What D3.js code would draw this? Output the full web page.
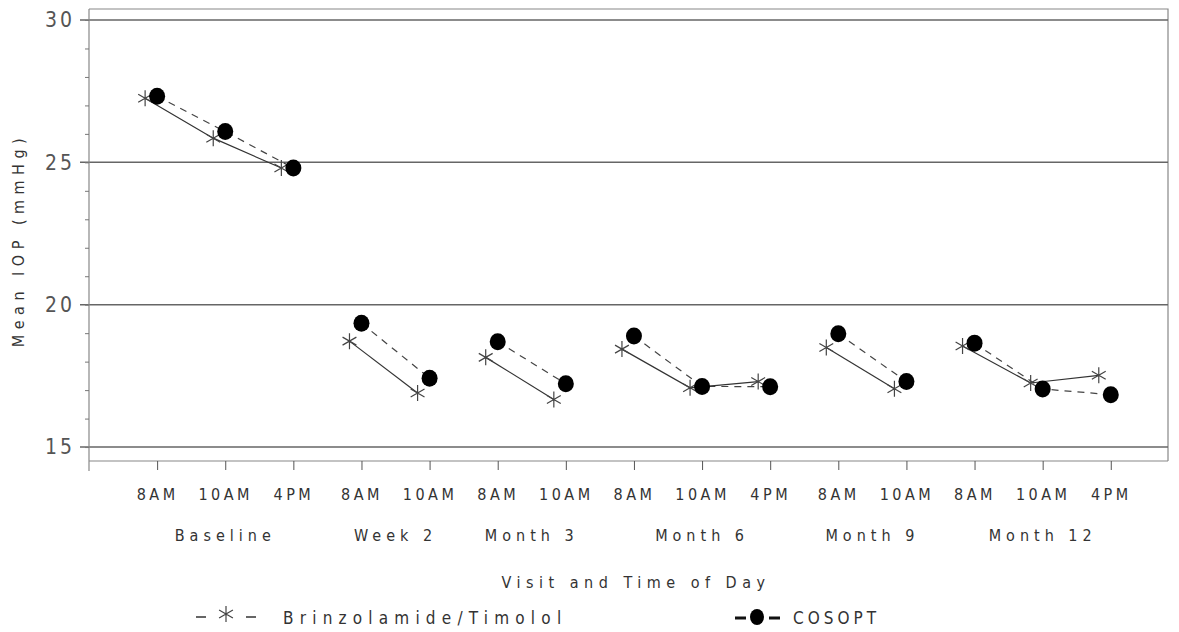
<!DOCTYPE html>
<html lang="en">
<head>
<meta charset="utf-8" />
<title>Mean IOP by visit</title>
<script src="https://d3js.org/d3.v7.min.js"></script>
<style>
  body { margin: 0; background: #fff; }
  text { font-family: "Liberation Sans Narrow", "DejaVu Sans Condensed", sans-serif; fill: #333; }
  .grid { stroke: #666; stroke-width: 1.5; }
  .frame { stroke: #888; stroke-width: 1.2; fill: none; }
  .brinz { fill: none; stroke: #333; stroke-width: 1.2; }
  .cosopt { fill: none; stroke: #444; stroke-width: 1.2; stroke-dasharray: 7,6; }
  .star { stroke: #444; stroke-width: 1.2; }
</style>
</head>
<body>
<script>
// tick labels, visits and which visit each time point belongs to
var times = ["8AM","10AM","4PM","8AM","10AM","8AM","10AM","8AM","10AM","4PM","8AM","10AM","8AM","10AM","4PM"];
var visits = ["Baseline","Week 2","Month 3","Month 6","Month 9","Month 12"];
var visitOf = [0,0,0,1,1,2,2,3,3,3,4,4,5,5,5];

// mean IOP values (mmHg)
var brinz  = [27.25, 25.85, 24.8, 18.72, 16.9, 18.15, 16.67, 18.44, 17.08, 17.3, 18.5, 17.05, 18.55, 17.25, 17.52];
var cosopt = [27.32, 26.08, 24.8, 19.35, 17.42, 18.7, 17.22, 18.9, 17.13, 17.12, 18.98, 17.3, 18.65, 17.04, 16.84];

var yTicks = [15, 20, 25, 30];

var W = 1179, H = 632;
var mLeft = 89, mRight = 1168, mTop = 9, mBottom = 461;

var x = d3.scaleLinear().domain([0, 15.84]).range([mLeft, mRight]);
var y = d3.scaleLinear().domain([30 - (461.5 - 20) / 28.47, 30]).range([461.5, 20]);

var starShift = -12;

var svg = d3.select("body").append("svg")
    .attr("width", W)
    .attr("height", H);

// frame (top and right)
svg.append("path")
    .attr("class", "frame")
    .attr("d", "M" + mLeft + "," + mTop + "H" + mRight + "V" + mBottom);

// grid lines at major values
svg.selectAll(".grid").data(yTicks).enter().append("line")
    .attr("class", "grid")
    .attr("x1", mLeft - 9).attr("x2", mRight)
    .attr("y1", function(d) { return y(d); })
    .attr("y2", function(d) { return y(d); })
    .attr("stroke", function(d) { return d === 20 ? "#999" : "#666"; });

// y axis
var yAxis = d3.axisLeft(y)
    .tickValues(d3.range(15, 31, 1))
    .tickSize(4)
    .tickFormat(function(d) { return d % 5 === 0 ? d : ""; });
var gy = svg.append("g")
    .attr("transform", "translate(" + mLeft + ",0)")
    .call(yAxis);
gy.select(".domain").attr("d", "M0," + mTop + "V" + (mBottom + 10)).attr("stroke", "#888").attr("stroke-width", 1.2);
gy.selectAll(".tick line").attr("stroke", "#777");
gy.selectAll(".tick text")
    .attr("x", -14)
    .style("font-size", "21px")
    .style("letter-spacing", "3px")
    .style("fill", "#555");

// x axis
var xAxis = d3.axisBottom(x)
    .tickValues(d3.range(1, 16))
    .tickSize(9)
    .tickFormat(function(d) { return times[d - 1]; });
var gx = svg.append("g")
    .attr("transform", "translate(0," + mBottom + ")")
    .call(xAxis);
gx.select(".domain").attr("d", "M" + mLeft + ",0H" + mRight).attr("stroke", "#888").attr("stroke-width", 1.2);
gx.selectAll(".tick line").attr("stroke", "#555");
gx.selectAll(".tick text")
    .attr("y", 28)
    .style("font-size", "16px")
    .style("letter-spacing", "3.5px")
    .style("fill", "#333");

// visit labels centred under their time points
svg.selectAll(".visit").data(visits).enter().append("text")
    .attr("class", "visit")
    .attr("x", function(d, i) {
      var pts = d3.range(1, 16).filter(function(p) { return visitOf[p - 1] === i; });
      return x(d3.mean(pts));
    })
    .attr("y", 541)
    .attr("text-anchor", "middle")
    .style("font-size", "16px")
    .style("letter-spacing", "5px")
    .text(function(d) { return d; });

// axis titles
svg.append("text")
    .attr("x", 636).attr("y", 588)
    .attr("text-anchor", "middle")
    .style("font-size", "16px")
    .style("letter-spacing", "5.5px")
    .text("Visit and Time of Day");

svg.append("text")
    .attr("transform", "translate(24,240) rotate(-90)")
    .attr("text-anchor", "middle")
    .style("font-size", "16px")
    .style("letter-spacing", "5.5px")
    .text("Mean IOP (mmHg)");

// build point lists per visit
var ptsB = brinz.map(function(v, i) { return {pos: i + 1, v: v, g: visitOf[i]}; });
var ptsC = cosopt.map(function(v, i) { return {pos: i + 1, v: v, g: visitOf[i]}; });

var lineB = d3.line()
    .x(function(d) { return x(d.pos) + starShift; })
    .y(function(d) { return y(d.v); });
var lineC = d3.line()
    .x(function(d) { return x(d.pos); })
    .y(function(d) { return y(d.v); });

var groupsB = d3.groups(ptsB, function(d) { return d.g; }).map(function(g) { return g[1]; });
var groupsC = d3.groups(ptsC, function(d) { return d.g; }).map(function(g) { return g[1]; });

svg.selectAll(".cosopt").data(groupsC).enter().append("path")
    .attr("class", "cosopt")
    .attr("d", lineC);
svg.selectAll(".brinz").data(groupsB).enter().append("path")
    .attr("class", "brinz")
    .attr("d", lineB);

// asterisk markers
function starPath(r) {
  var p = "";
  [90, 30, 150].forEach(function(a) {
    var rad = a * Math.PI / 180, dx = r * Math.cos(rad), dy = r * Math.sin(rad);
    p += "M" + (-dx) + "," + (-dy) + "L" + dx + "," + dy;
  });
  return p;
}
svg.selectAll(".star").data(ptsB).enter().append("path")
    .attr("class", "star")
    .attr("transform", function(d) { return "translate(" + (x(d.pos) + starShift) + "," + y(d.v) + ")"; })
    .attr("d", starPath(8));

svg.selectAll(".dot").data(ptsC).enter().append("ellipse")
    .attr("class", "dot")
    .attr("cx", function(d) { return x(d.pos); })
    .attr("cy", function(d) { return y(d.v); })
    .attr("rx", 8).attr("ry", 8.5)
    .attr("fill", "#000");

// legend
var lg = svg.append("g").attr("transform", "translate(0,617)");
lg.append("line").attr("x1", 196).attr("x2", 206).attr("y1", 0).attr("y2", 0).attr("stroke", "#333").attr("stroke-width", 1.5);
lg.append("line").attr("x1", 246).attr("x2", 256).attr("y1", 0).attr("y2", 0).attr("stroke", "#333").attr("stroke-width", 1.5);
lg.append("path").attr("class", "star").attr("transform", "translate(226,-3)").attr("d", starPath(8))
    .attr("stroke", "#222").attr("stroke-width", 1.8);
lg.append("text").attr("x", 283).attr("y", 7)
    .style("font-size", "17px").style("letter-spacing", "6.2px")
    .text("Brinzolamide/Timolol");

lg.append("line").attr("x1", 735).attr("x2", 780).attr("y1", 1).attr("y2", 1).attr("stroke", "#111").attr("stroke-width", 3).attr("stroke-dasharray", "11,23");
lg.append("ellipse").attr("cx", 757).attr("cy", 0).attr("rx", 7).attr("ry", 8).attr("fill", "#000");
lg.append("text").attr("x", 793).attr("y", 7)
    .style("font-size", "17px").style("letter-spacing", "4px")
    .text("COSOPT");
</script>
</body>
</html>
